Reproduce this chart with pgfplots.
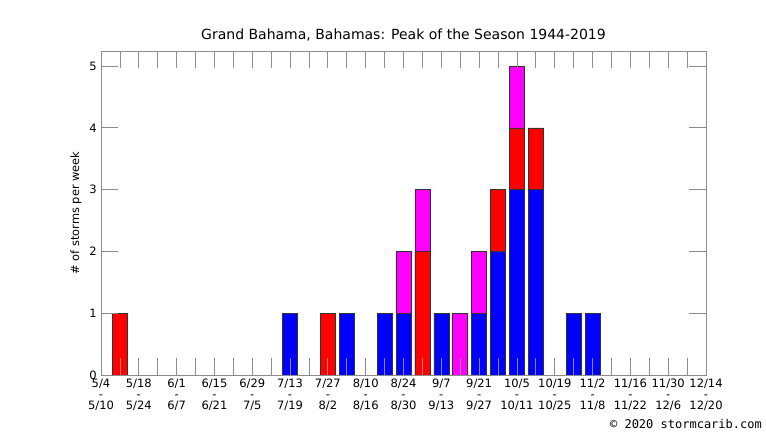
\documentclass[border=0pt]{standalone}
\usepackage{fontspec}
\setmainfont{DejaVu Sans}
\setmonofont{DejaVu Sans Mono}
\usepackage{pgfplots}
\pgfplotsset{compat=1.18}
\definecolor{axgray}{HTML}{8C8C8C}
\definecolor{barline}{HTML}{333333}
\definecolor{mag}{HTML}{FF00FF}
\definecolor{rd}{HTML}{FF0000}
\definecolor{bl}{HTML}{0000FF}
\begin{document}
\begin{tikzpicture}[x=1bp,y=1bp]
\path[use as bounding box] (0,0) rectangle (766,431);
\begin{axis}[
  ybar, bar width=15bp,
  at={(101bp,56bp)}, anchor=south west,
  scale only axis, width=605bp, height=324bp,
  xmin=0, xmax=32, ymin=0, ymax=5.243,
  axis on top,
  axis line style={axgray, line width=0.8bp},
  tick style={axgray, line width=0.8bp},
  tick align=inside, xtick align=inside, ytick align=inside,
  major tick length=17bp, minor tick length=17bp,
  xtick={0,2,...,32},
  minor xtick={1,3,...,31},
  ytick={0,1,2,3,4,5},
  /pgf/number format/assume math mode=true,
  yticklabel style={font=\fontsize{11.5bp}{13bp}\selectfont, inner sep=0pt, xshift=-4bp},
  xticklabel style={align=center, font=\fontsize{11.5bp}{10.8bp}\selectfont, inner sep=0pt, yshift=-4bp},
  xticklabels={{5/4\\-\\5/10},{5/18\\-\\5/24},{6/1\\-\\6/7},{6/15\\-\\6/21},{6/29\\-\\7/5},{7/13\\-\\7/19},{7/27\\-\\8/2},{8/10\\-\\8/16},{8/24\\-\\8/30},{9/7\\-\\9/13},{9/21\\-\\9/27},{10/5\\-\\10/11},{10/19\\-\\10/25},{11/2\\-\\11/8},{11/16\\-\\11/22},{11/30\\-\\12/6},{12/14\\-\\12/20}},
  every axis plot/.append style={bar shift=0pt, draw=barline, line width=0.6bp},
]
% magenta: cumulative total (top segment)
\addplot[fill=mag] coordinates {(16,2) (17,3) (19,1) (20,2) (22,5)};
% red: cumulative blue+red
\addplot[fill=rd] coordinates {(1,1) (12,1) (17,2) (21,3) (22,4) (23,4)};
% blue
\addplot[fill=bl] coordinates {(10,1) (13,1) (15,1) (16,1) (18,1) (20,1) (21,2) (22,3) (23,3) (25,1) (26,1)};
\end{axis}
\node[anchor=base, font=\fontsize{14bp}{16bp}\selectfont] at (403.5,391) {Grand Bahama, Bahamas: Peak of the Season 1944-2019};
\node[rotate=90, font=\fontsize{11.4bp}{13bp}\selectfont] at (76,218) {\# of storms per week};
\node[anchor=base east, inner sep=0pt, font=\ttfamily\fontsize{12bp}{14bp}\selectfont] at (762,3) {© 2020 stormcarib.com};
\end{tikzpicture}
\end{document}
